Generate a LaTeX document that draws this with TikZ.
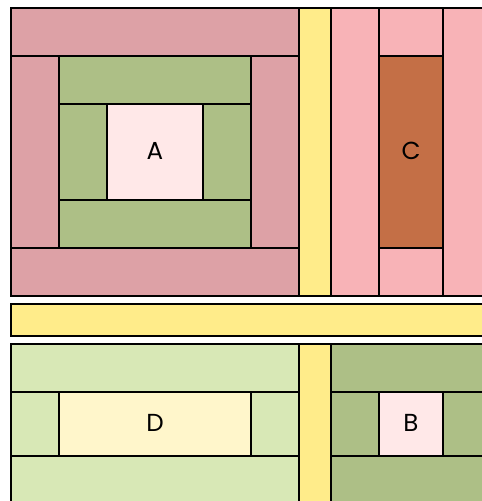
\documentclass[tikz,border=0pt]{standalone}
\usepackage{fontspec}
\setsansfont{Poppins}
\usepackage{tikz}

\definecolor{rose}{HTML}{DDA1A6}
\definecolor{blush}{HTML}{F8B3B7}
\definecolor{sage}{HTML}{ADBF86}
\definecolor{mint}{HTML}{D8E8B6}
\definecolor{shell}{HTML}{FFE8E8}
\definecolor{butter}{HTML}{FFEC8A}
\definecolor{cream}{HTML}{FFF6CB}
\definecolor{rust}{HTML}{C46F46}

\tikzset{patch/.style={draw=black, line width=0.65pt},
         lbl/.style={font=\sffamily\fontsize{14}{16}\selectfont}}

\begin{document}
\begin{tikzpicture}[x=0.02cm, y=-0.02cm]
\useasboundingbox (0,0) rectangle (482,501);
\clip (0,0) rectangle (482,501);
% block A: log cabin
\filldraw[patch, fill=rose] (11,8) rectangle (299,56);
\filldraw[patch, fill=rose] (11,56) rectangle (59,248);
\filldraw[patch, fill=rose] (251,56) rectangle (299,248);
\filldraw[patch, fill=rose] (11,248) rectangle (299,296);
\filldraw[patch, fill=sage] (59,56) rectangle (251,104);
\filldraw[patch, fill=sage] (59,104) rectangle (107,200);
\filldraw[patch, fill=sage] (203,104) rectangle (251,200);
\filldraw[patch, fill=sage] (59,200) rectangle (251,248);
\filldraw[patch, fill=shell] (107,104) rectangle (203,200);
\node[lbl] (a) at (155,151) {A};
% block C
\filldraw[patch, fill=blush] (331,8) rectangle (379,296);
\filldraw[patch, fill=blush] (379,8) rectangle (443,56);
\filldraw[patch, fill=rust] (379,56) rectangle (443,248);
\filldraw[patch, fill=blush] (379,248) rectangle (443,296);
\filldraw[patch, fill=blush] (443,8) rectangle (510,296);
\node[lbl] (c) at (411,151) {C};
% sashing
\filldraw[patch, fill=butter] (299,8) rectangle (331,296);
\filldraw[patch, fill=butter] (11,304) rectangle (510,336);
\filldraw[patch, fill=butter] (299,344) rectangle (331,520);
% block D
\filldraw[patch, fill=mint] (11,344) rectangle (299,392);
\filldraw[patch, fill=mint] (11,392) rectangle (59,456);
\filldraw[patch, fill=mint] (251,392) rectangle (299,456);
\filldraw[patch, fill=mint] (11,456) rectangle (299,520);
\filldraw[patch, fill=cream] (59,392) rectangle (251,456);
\node[lbl] (d) at (155,423) {D};
% block B
\filldraw[patch, fill=sage] (331,344) rectangle (510,392);
\filldraw[patch, fill=sage] (331,392) rectangle (379,456);
\filldraw[patch, fill=sage] (443,392) rectangle (510,456);
\filldraw[patch, fill=sage] (331,456) rectangle (510,520);
\filldraw[patch, fill=shell] (379,392) rectangle (443,456);
\node[lbl] (b) at (411,423) {B};
\end{tikzpicture}
\end{document}
